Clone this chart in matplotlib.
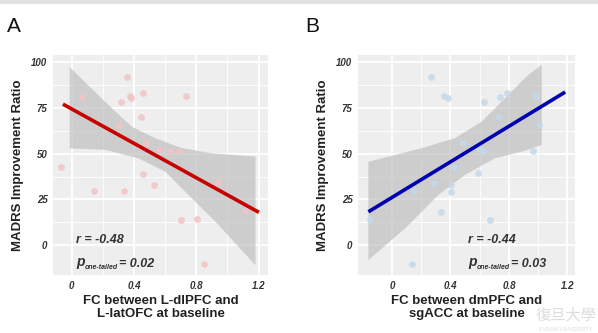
import matplotlib
matplotlib.use("Agg")
import matplotlib.pyplot as plt

plt.rcParams["font.family"] = ["Liberation Sans", "DejaVu Sans"]

# shared outcome (MADRS improvement ratio, %)
# panel A: FC between L-dlPFC and L-latOFC
fc_a = [-0.066, 0.069, 0.144, 0.305, 0.316, 0.353, 0.333, 0.374, 0.381, 0.456, 0.443, 0.475,
        0.456, 0.531, 0.563, 0.632, 0.688, 0.731, 0.699, 0.804, 0.847, 0.940, 1.112]
madrs_a = [42.9, 80.9, 29.6, 65.9, 78.5, 92.2, 29.8, 81.6, 80.7, 83.1, 70.3, 56.0,
           38.7, 32.7, 52.8, 51.5, 51.7, 81.8, 13.7, 14.2, -10.4, 34.5, 18.5]
fit_a_x = [-0.056, 1.202]
fit_a_y = [77.1, 17.9]
band_a_x = [-0.013, 0.213, 0.385, 0.535, 0.708, 0.901, 1.18]
band_a_hi = [97.4, 78.5, 64.8, 58.5, 53.0, 50.2, 48.4]
band_a_lo_x = [-0.013, 0.213, 0.427, 0.600, 0.750, 0.923, 1.18]
band_a_lo = [52.9, 52.1, 47.5, 40.2, 27.4, 12.8, -11.0]

# panel B: FC between dmPFC and sgACC
fc_b = [-0.151, 0.135, 0.151, 0.267, 0.288, 0.336, 0.356, 0.386, 0.402, 0.402, 0.425, 0.489,
        0.587, 0.598, 0.626, 0.671, 0.735, 0.740, 0.785, 0.968, 0.984, 1.009, 0.620]
madrs_b = [14.2, -10.4, 30.1, 92.2, 34.1, 18.1, 81.8, 80.7, 32.9, 29.2, 42.9, 56.1,
           39.3, 53.0, 78.5, 13.7, 70.3, 80.9, 83.1, 51.7, 81.6, 65.9, 51.5]
fit_b_x = [-0.162, 1.185]
fit_b_y = [18.2, 83.7]
band_b_hi_x = [-0.162, 0.203, 0.432, 0.614, 0.774, 0.934, 1.025]
band_b_hi = [45.6, 53.0, 58.5, 67.6, 80.4, 93.2, 98.6]
band_b_lo_x = [-0.162, 0.089, 0.317, 0.500, 0.705, 0.888, 1.025]
band_b_lo = [-8.2, 9.1, 27.4, 38.4, 47.5, 51.1, 54.8]

x_ticks = [0, 0.4, 0.8, 1.2]
x_tick_labels = ["0", "0.4", "0.8", "1.2"]
y_ticks = [0, 25, 50, 75, 100]

panels = [
    dict(letter="A", rect=[0.0886, 0.174, 0.3595, 0.661], xlim=(-0.12, 1.26),
         x=fc_a, y=madrs_a, fx=fit_a_x, fy=fit_a_y,
         hx=band_a_x, hi=band_a_hi, lx=band_a_lo_x, lo=band_a_lo,
         pt="#f2c4c6", line="#c80000", r="r = -0.48", p="= 0.02", tx=0.03,
         xlabel="FC between L-dlPFC and\nL-latOFC at baseline", letter_x=0.012),
    dict(letter="B", rect=[0.5987, 0.174, 0.363, 0.661], xlim=(-0.233, 1.253),
         x=fc_b, y=madrs_b, fx=fit_b_x, fy=fit_b_y,
         hx=band_b_hi_x, hi=band_b_hi, lx=band_b_lo_x, lo=band_b_lo,
         pt="#c4d8ea", line="#0000b0", r="r = -0.44", p="= 0.03", tx=0.52,
         xlabel="FC between dmPFC and\nsgACC at baseline", letter_x=0.51),
]

fig = plt.figure(figsize=(5.98, 3.33), dpi=100)

# thin grey strip along the top edge
fig.patches.append(plt.Rectangle((0, 0.988), 1, 0.012, transform=fig.transFigure,
                                 color="#e2e2e2", lw=0))

for pn in panels:
    ax = fig.add_axes(pn["rect"])
    ax.set_facecolor("#eeeeee")
    for s in ax.spines.values():
        s.set_visible(False)
    ax.set_xlim(*pn["xlim"])
    ax.set_ylim(-16.4, 104)
    ax.set_xticks(x_ticks)
    ax.set_xticklabels(x_tick_labels)
    ax.set_yticks(y_ticks)
    ax.set_xticks([0.2, 0.6, 1.0], minor=True)
    ax.set_yticks([12.5, 37.5, 62.5, 87.5], minor=True)
    ax.grid(which="major", color="white", lw=1.3)
    ax.grid(which="minor", color="white", lw=0.6)
    ax.set_axisbelow(True)
    ax.tick_params(which="both", length=0, pad=4, labelsize=7, labelcolor="#333333")
    for lab in ax.get_xticklabels() + ax.get_yticklabels():
        lab.set_fontweight("bold")
        lab.set_fontstyle("italic")

    # confidence band: upper and lower edges read separately
    bx = pn["hx"] + pn["lx"][::-1]
    by = pn["hi"] + pn["lo"][::-1]
    ax.fill(bx, by, color="#bebebe", alpha=0.68, lw=0, zorder=2)
    ax.scatter(pn["x"], pn["y"], s=24, color=pn["pt"], alpha=0.85, lw=0, zorder=3)
    ax.plot(pn["fx"], pn["fy"], color=pn["line"], lw=2.6, zorder=4, solid_capstyle="butt")

    ax.set_ylabel("MADRS Improvement Ratio", fontsize=9.5, fontweight="bold",
                  color="#222222", labelpad=5)
    ax.set_xlabel(pn["xlabel"], fontsize=9.5, fontweight="bold", color="#222222",
                  labelpad=3, linespacing=1.15)

    t_r = ax.text(pn["tx"], 2.7, pn["r"], fontsize=9, fontweight="bold", style="italic",
                  color="#333333", va="center", zorder=5)
    t_p = ax.text(pn["tx"], -9.3, "p", fontsize=10, fontweight="bold", style="italic",
                  color="#333333", va="center", zorder=5)
    t_s = ax.annotate("one-tailed", xy=(1, 0.1), xycoords=t_p, fontsize=5,
                      style="italic", fontweight="bold", color="#333333",
                      va="center", ha="left", zorder=5)
    ax.annotate(pn["p"], xy=(1, 0.5), xycoords=t_s, xytext=(1, 3),
                textcoords="offset points", fontsize=9, fontweight="bold",
                style="italic", color="#333333", va="center", ha="left", zorder=5)

    fig.text(pn["letter_x"], 0.92, pn["letter"], fontsize=15, color="#111111",
             va="center", ha="left")

# watermark in the lower right corner
fig.text(0.997, 0.055, "復旦大學", fontsize=11, color="#dcdcdc", ha="right", va="center",
         family=["Noto Sans CJK TC", "DejaVu Sans"])
fig.text(0.99, 0.012, "FUDAN UNIVERSITY", fontsize=4, color="#dcdcdc", ha="right", va="center")

fig.savefig("out.png", dpi=100)
